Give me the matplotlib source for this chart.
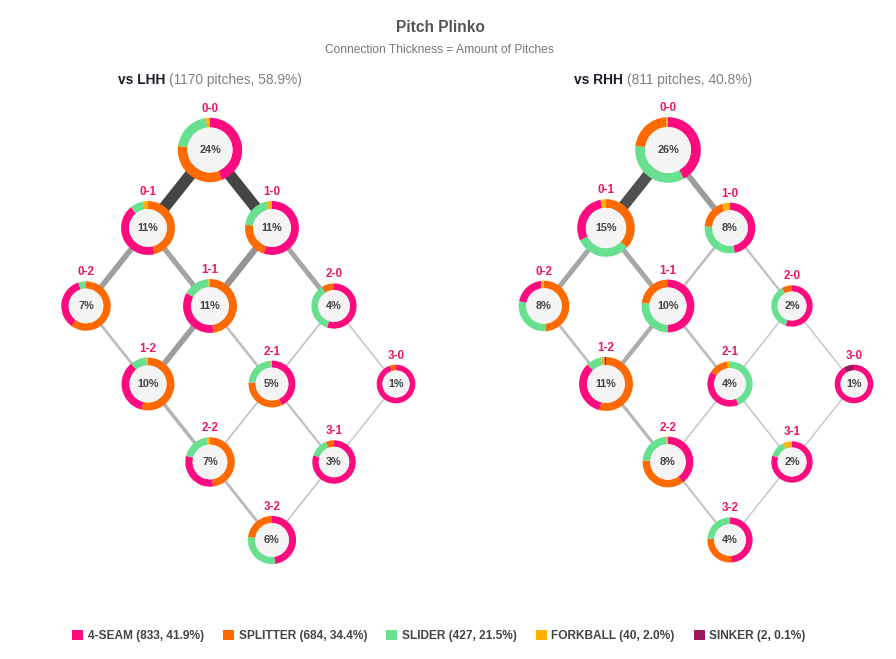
import matplotlib.pyplot as plt
import numpy as np
from matplotlib.patches import Wedge, Circle, Patch

plt.rcParams['font.family'] = ['Liberation Sans', 'DejaVu Sans']

# pitch types (legend order) and season totals
pitch_types = ['4-SEAM', 'SPLITTER', 'SLIDER', 'FORKBALL', 'SINKER']
pitch_totals = [833, 684, 427, 40, 2]
pitch_colors = ['#ff0a7f', '#ff6a00', '#68e090', '#ffb300', '#9c1a5b']

counts = ['0-0', '0-1', '1-0', '0-2', '1-1', '2-0', '1-2', '2-1', '3-0', '2-2', '3-1', '3-2']

# vs LHH: share of pitches thrown in each count, and mix per count (4S, SPL, SL, FK, SK)
lhh_pitches = 1170
lhh_pct = [24, 11, 11, 7, 11, 4, 10, 5, 1, 7, 3, 6]
lhh_mix = {
    '0-0': [44, 33, 21, 2, 0],
    '0-1': [43, 46, 8, 3, 0],
    '1-0': [55, 22, 20, 3, 0],
    '0-2': [35, 60, 5, 0, 0],
    '1-1': [35, 48, 16, 1, 0],
    '2-0': [55, 9, 36, 0, 0],
    '1-2': [35, 54, 10, 1, 0],
    '2-1': [43, 33, 23, 1, 0],
    '3-0': [95, 5, 0, 0, 0],
    '2-2': [31, 48, 19, 2, 0],
    '3-1': [80, 6, 14, 0, 0],
    '3-2': [48, 23, 29, 0, 0],
}

# vs RHH
rhh_pitches = 811
rhh_pct = [26, 15, 8, 8, 10, 2, 11, 4, 1, 8, 2, 4]
rhh_mix = {
    '0-0': [42, 22, 35, 1, 0],
    '0-1': [29, 37, 31, 3, 0],
    '1-0': [47, 19, 29, 5, 0],
    '0-2': [20, 49, 29, 2, 0],
    '1-1': [50, 23, 27, 0, 0],
    '2-0': [55, 8, 37, 0, 0],
    '1-2': [34, 54, 9, 2, 1],
    '2-1': [40, 14, 44, 2, 0],
    '3-0': [91, 0, 0, 0, 9],
    '2-2': [40, 36, 23, 1, 0],
    '3-1': [80, 0, 13, 7, 0],
    '3-2': [49, 27, 24, 0, 0],
}

# connections between counts and number of pitches along each
edge_pairs = [('0-0', '0-1'), ('0-0', '1-0'), ('0-1', '0-2'), ('0-1', '1-1'),
              ('1-0', '1-1'), ('1-0', '2-0'), ('0-2', '1-2'), ('1-1', '1-2'),
              ('1-1', '2-1'), ('2-0', '2-1'), ('2-0', '3-0'), ('1-2', '2-2'),
              ('2-1', '2-2'), ('2-1', '3-1'), ('3-0', '3-1'), ('2-2', '3-2'),
              ('3-1', '3-2')]
lhh_edges = [129, 129, 62, 58, 72, 55, 30, 63, 29, 20, 16, 40, 20, 25, 8, 32, 18]
rhh_edges = [122, 65, 55, 55, 28, 25, 30, 48, 30, 10, 10, 36, 14, 14, 5, 22, 10]

W, H = 896, 659
fig = plt.figure(figsize=(W / 100, H / 100), dpi=100)
ax = fig.add_axes([0, 0, 1, 1])
ax.set_xlim(0, W)
ax.set_ylim(H, 0)
ax.axis('off')

total_all = sum(pitch_totals)
edge_max = max(max(lhh_edges), max(rhh_edges))


def node_xy(cnt, cx):
    b, s = int(cnt[0]), int(cnt[2])
    return cx + 62 * (b - s), 150 + 78 * (b + s)


def draw_panel(cx, pct, mix, edges, side, n):
    # connections
    for (a, b), v in zip(edge_pairs, edges):
        x1, y1 = node_xy(a, cx)
        x2, y2 = node_xy(b, cx)
        t = v / edge_max
        g = 0.80 - 0.53 * t ** 1.5
        lw = max(1.6, 0.09 * v) * 0.72
        ax.plot([x1, x2], [y1, y2], color=(g, g, g), lw=lw,
                solid_capstyle='butt', zorder=1)
    # donuts, slices biggest first, clockwise from 12 o'clock
    for cnt, p in zip(counts, pct):
        x, y = node_xy(cnt, cx)
        r = 16 + 3.3 * np.sqrt(p)
        ring = 0.3 * r
        vals = mix[cnt]
        order = sorted(range(len(vals)), key=lambda i: -vals[i])
        tot = sum(vals)
        start = -90.0
        for i in order:
            if vals[i] <= 0:
                continue
            span = 360.0 * vals[i] / tot
            ax.add_patch(Wedge((x, y), r, start, start + span, width=ring,
                               facecolor=pitch_colors[i], edgecolor='none', zorder=3))
            start += span
        ax.add_patch(Circle((x, y), r - ring, facecolor='#f4f4f4',
                            edgecolor='none', zorder=3))
        ax.text(x, y, f'{p}%', ha='center', va='center', fontsize=7.8,
                fontweight='bold', color='#444444', zorder=4)
        ax.text(x, y - r - 9, cnt, ha='center', va='center', fontsize=8.4,
                fontweight='bold', color='#e8195f', zorder=4)
    # panel title
    share = 100 * n / total_all
    ax.text(cx - 45, 80, f'vs {side}', ha='right', va='center', fontsize=9.9,
            fontweight='bold', color='#1c1c2a')
    ax.text(cx - 41, 80, f'({n} pitches, {share:.1f}%)', ha='left', va='center',
            fontsize=9.9, color='#808080')


draw_panel(210, lhh_pct, lhh_mix, lhh_edges, 'LHH', lhh_pitches)
draw_panel(668, rhh_pct, rhh_mix, rhh_edges, 'RHH', rhh_pitches)

ax.text(440, 28, 'Pitch Plinko', ha='center', va='center', fontsize=11.2,
        fontweight='bold', color='#555555')
ax.text(439, 50, 'Connection Thickness = Amount of Pitches', ha='center',
        va='center', fontsize=8.65, color='#777777')

handles = [Patch(facecolor=c, edgecolor='none') for c in pitch_colors]
labels = [f'{t} ({v}, {100 * v / total_all:.1f}%)' for t, v in zip(pitch_types, pitch_totals)]
leg = fig.legend(handles, labels, loc='center', bbox_to_anchor=(439 / W, 1 - 636 / H),
                 ncol=5, frameon=False, handlelength=0.9, handleheight=0.9,
                 handletextpad=0.4, columnspacing=1.6, fontsize=8.6)
for txt in leg.get_texts():
    txt.set_fontweight('bold')
    txt.set_color('#444444')

fig.savefig('out.png', dpi=100)
